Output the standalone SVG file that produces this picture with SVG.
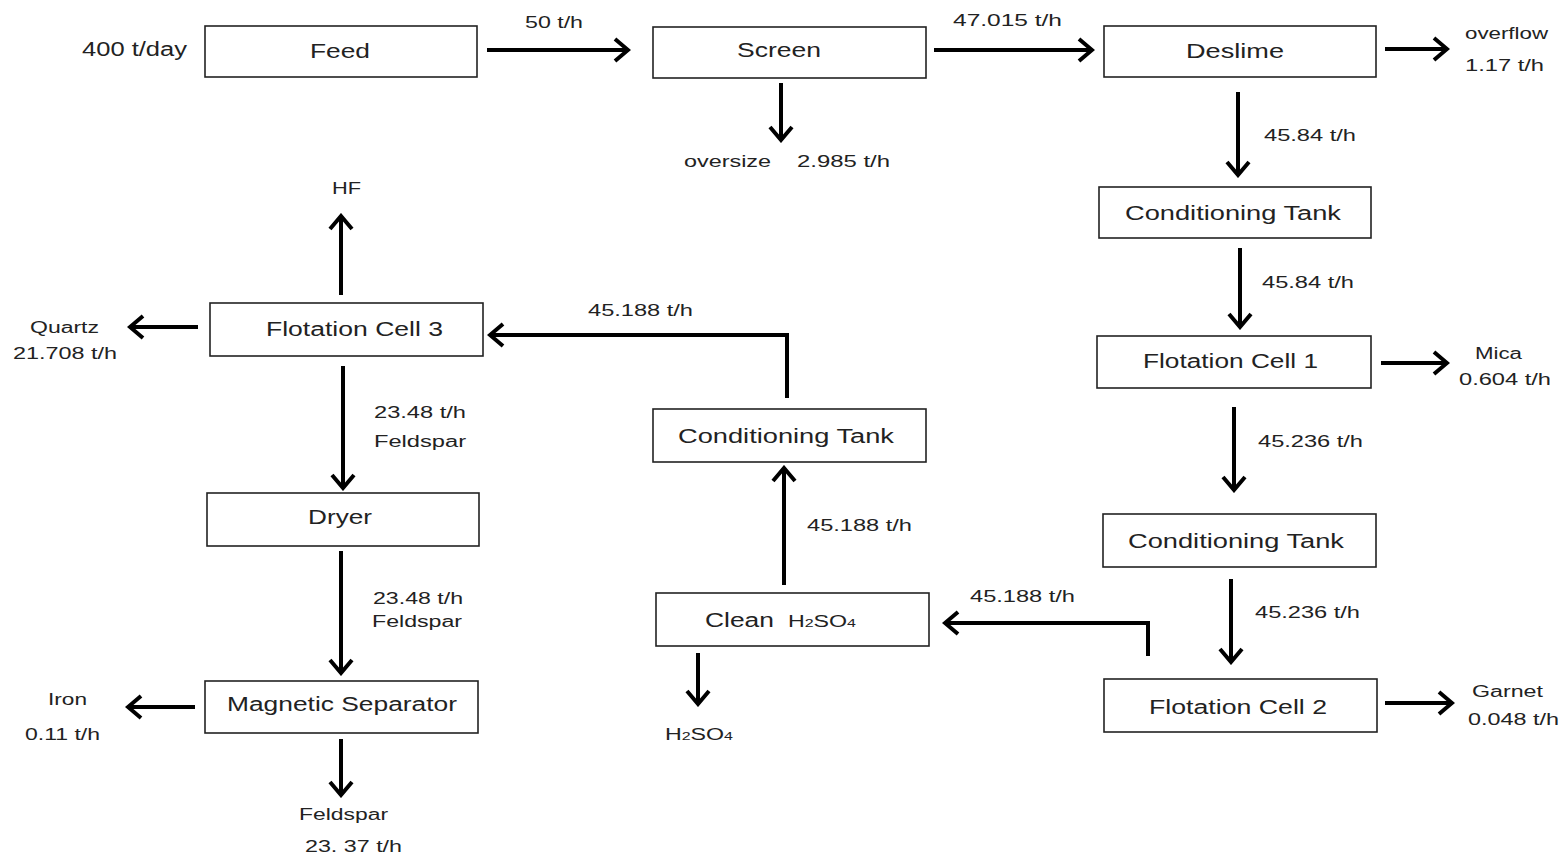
<svg xmlns="http://www.w3.org/2000/svg" width="1566" height="858" viewBox="0 0 1566 858">
<style>
.box{fill:#fff;stroke:#222;stroke-width:1.6}
.bt{font-family:"Liberation Sans",Arial,sans-serif;font-size:20px;fill:#222}
.lt{font-family:"Liberation Sans",Arial,sans-serif;font-size:16px;fill:#222}
.ar{fill:none;stroke:#000;stroke-width:4}
</style>
<defs>
<marker id="ah" viewBox="0 0 20 26" markerWidth="20" markerHeight="26" markerUnits="userSpaceOnUse" refX="17" refY="13" orient="auto">
<path d="M4,2 L17,13 L4,24" fill="none" stroke="#000" stroke-width="4"/>
</marker>
</defs>
<rect width="1566" height="858" fill="#fff"/>

<g id="connectors">
<line class="ar" x1="487" y1="50" x2="628" y2="50" marker-end="url(#ah)"/>
<line class="ar" x1="934" y1="50" x2="1092" y2="50" marker-end="url(#ah)"/>
<line class="ar" x1="1385" y1="49" x2="1447" y2="49" marker-end="url(#ah)"/>
<line class="ar" x1="781" y1="83" x2="781" y2="140" marker-end="url(#ah)"/>
<line class="ar" x1="1238" y1="92" x2="1238" y2="175" marker-end="url(#ah)"/>
<line class="ar" x1="1240" y1="248" x2="1240" y2="327" marker-end="url(#ah)"/>
<line class="ar" x1="1381" y1="363" x2="1447" y2="363" marker-end="url(#ah)"/>
<line class="ar" x1="1234" y1="407" x2="1234" y2="490" marker-end="url(#ah)"/>
<line class="ar" x1="1231" y1="579" x2="1231" y2="662" marker-end="url(#ah)"/>
<line class="ar" x1="1385" y1="703" x2="1452" y2="703" marker-end="url(#ah)"/>
<polyline class="ar" points="1148,656 1148,623 945,623" marker-end="url(#ah)"/>
<line class="ar" x1="784" y1="585" x2="784" y2="468" marker-end="url(#ah)"/>
<polyline class="ar" points="787,398 787,335 490,335" marker-end="url(#ah)"/>
<line class="ar" x1="698" y1="653" x2="698" y2="704" marker-end="url(#ah)"/>
<line class="ar" x1="341" y1="295" x2="341" y2="216" marker-end="url(#ah)"/>
<line class="ar" x1="198" y1="327" x2="130" y2="327" marker-end="url(#ah)"/>
<line class="ar" x1="343" y1="366" x2="343" y2="488" marker-end="url(#ah)"/>
<line class="ar" x1="341" y1="551" x2="341" y2="673" marker-end="url(#ah)"/>
<line class="ar" x1="195" y1="707" x2="128" y2="707" marker-end="url(#ah)"/>
<line class="ar" x1="341" y1="739" x2="341" y2="795" marker-end="url(#ah)"/>
</g>

<g id="feed"><rect class="box" x="205" y="26" width="272" height="51"/><text class="bt" x="310" y="58" textLength="60" lengthAdjust="spacingAndGlyphs">Feed</text></g>
<g id="screen"><rect class="box" x="653" y="27" width="273" height="51"/><text class="bt" x="737" y="57" textLength="84" lengthAdjust="spacingAndGlyphs">Screen</text></g>
<g id="deslime"><rect class="box" x="1104" y="26" width="272" height="51"/><text class="bt" x="1186" y="58" textLength="98" lengthAdjust="spacingAndGlyphs">Deslime</text></g>
<g id="ctank1"><rect class="box" x="1099" y="187" width="272" height="51"/><text class="bt" x="1125" y="220" textLength="216" lengthAdjust="spacingAndGlyphs">Conditioning Tank</text></g>
<g id="fcell1"><rect class="box" x="1097" y="336" width="274" height="52"/><text class="bt" x="1143" y="368" textLength="175" lengthAdjust="spacingAndGlyphs">Flotation Cell 1</text></g>
<g id="ctank2"><rect class="box" x="1103" y="514" width="273" height="53"/><text class="bt" x="1128" y="548" textLength="216" lengthAdjust="spacingAndGlyphs">Conditioning Tank</text></g>
<g id="fcell2"><rect class="box" x="1104" y="679" width="273" height="53"/><text class="bt" x="1149" y="714" textLength="178" lengthAdjust="spacingAndGlyphs">Flotation Cell 2</text></g>
<g id="clean"><rect class="box" x="656" y="593" width="273" height="53"/><text class="bt" x="705" y="627" textLength="69" lengthAdjust="spacingAndGlyphs">Clean</text><text class="lt" x="788" y="627" textLength="68" lengthAdjust="spacingAndGlyphs">H<tspan font-size="11">2</tspan>SO<tspan font-size="11">4</tspan></text></g>
<g id="ctank3"><rect class="box" x="653" y="409" width="273" height="53"/><text class="bt" x="678" y="443" textLength="216" lengthAdjust="spacingAndGlyphs">Conditioning Tank</text></g>
<g id="fcell3"><rect class="box" x="210" y="303" width="273" height="53"/><text class="bt" x="266" y="336" textLength="177" lengthAdjust="spacingAndGlyphs">Flotation Cell 3</text></g>
<g id="dryer"><rect class="box" x="207" y="493" width="272" height="53"/><text class="bt" x="308" y="524" textLength="64" lengthAdjust="spacingAndGlyphs">Dryer</text></g>
<g id="magsep"><rect class="box" x="205" y="681" width="273" height="52"/><text class="bt" x="227" y="711" textLength="230" lengthAdjust="spacingAndGlyphs">Magnetic Separator</text></g>

<g id="labels">
<text class="bt" x="82" y="56" textLength="105" lengthAdjust="spacingAndGlyphs" font-size="19">400 t/day</text>
<text class="lt" x="525" y="28" textLength="58" lengthAdjust="spacingAndGlyphs">50 t/h</text>
<text class="lt" x="953" y="26" textLength="109" lengthAdjust="spacingAndGlyphs">47.015 t/h</text>
<text class="lt" x="1465" y="39" textLength="83" lengthAdjust="spacingAndGlyphs">overflow</text>
<text class="lt" x="1465" y="71" textLength="79" lengthAdjust="spacingAndGlyphs">1.17 t/h</text>
<text class="lt" x="684" y="167" textLength="87" lengthAdjust="spacingAndGlyphs">oversize</text>
<text class="lt" x="797" y="167" textLength="93" lengthAdjust="spacingAndGlyphs">2.985 t/h</text>
<text class="lt" x="1264" y="141" textLength="92" lengthAdjust="spacingAndGlyphs">45.84 t/h</text>
<text class="lt" x="1262" y="288" textLength="92" lengthAdjust="spacingAndGlyphs">45.84 t/h</text>
<text class="lt" x="1475" y="359" textLength="47" lengthAdjust="spacingAndGlyphs">Mica</text>
<text class="lt" x="1459" y="385" textLength="92" lengthAdjust="spacingAndGlyphs">0.604 t/h</text>
<text class="lt" x="1258" y="447" textLength="105" lengthAdjust="spacingAndGlyphs">45.236 t/h</text>
<text class="lt" x="1255" y="618" textLength="105" lengthAdjust="spacingAndGlyphs">45.236 t/h</text>
<text class="lt" x="1472" y="697" textLength="71" lengthAdjust="spacingAndGlyphs">Garnet</text>
<text class="lt" x="1468" y="725" textLength="91" lengthAdjust="spacingAndGlyphs">0.048 t/h</text>
<text class="lt" x="970" y="602" textLength="105" lengthAdjust="spacingAndGlyphs">45.188 t/h</text>
<text class="lt" x="807" y="531" textLength="105" lengthAdjust="spacingAndGlyphs">45.188 t/h</text>
<text class="lt" x="588" y="316" textLength="105" lengthAdjust="spacingAndGlyphs">45.188 t/h</text>
<text class="lt" x="665" y="740" textLength="68" lengthAdjust="spacingAndGlyphs">H<tspan font-size="11">2</tspan>SO<tspan font-size="11">4</tspan></text>
<text class="lt" x="332" y="194" textLength="29" lengthAdjust="spacingAndGlyphs">HF</text>
<text class="lt" x="30" y="333" textLength="69" lengthAdjust="spacingAndGlyphs">Quartz</text>
<text class="lt" x="13" y="359" textLength="104" lengthAdjust="spacingAndGlyphs">21.708 t/h</text>
<text class="lt" x="374" y="418" textLength="92" lengthAdjust="spacingAndGlyphs">23.48 t/h</text>
<text class="lt" x="374" y="447" textLength="92" lengthAdjust="spacingAndGlyphs">Feldspar</text>
<text class="lt" x="373" y="604" textLength="90" lengthAdjust="spacingAndGlyphs">23.48 t/h</text>
<text class="lt" x="372" y="627" textLength="90" lengthAdjust="spacingAndGlyphs">Feldspar</text>
<text class="lt" x="48" y="705" textLength="39" lengthAdjust="spacingAndGlyphs">Iron</text>
<text class="lt" x="25" y="740" textLength="75" lengthAdjust="spacingAndGlyphs">0.11 t/h</text>
<text class="lt" x="299" y="820" textLength="89" lengthAdjust="spacingAndGlyphs">Feldspar</text>
<text class="lt" x="305" y="852" textLength="97" lengthAdjust="spacingAndGlyphs">23. 37 t/h</text>
</g>
</svg>
